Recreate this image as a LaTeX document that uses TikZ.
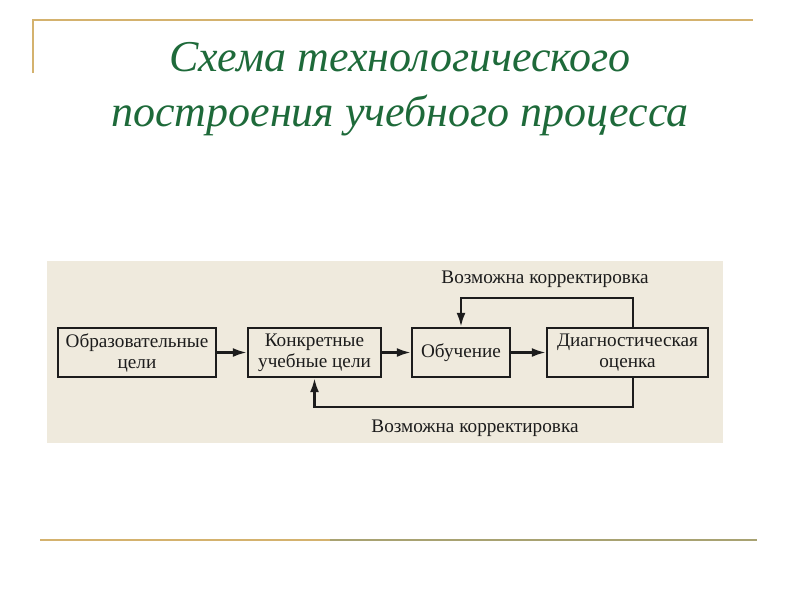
\documentclass[tikz,border=0pt]{standalone}
\usepackage{fontspec}
\setmainfont{Liberation Serif}
\usetikzlibrary{arrows.meta}
\definecolor{titlegreen}{HTML}{1E6A3A}
\definecolor{rulegold}{HTML}{D4B26E}
\definecolor{ruleolive}{HTML}{A8A272}
\definecolor{scanbg}{HTML}{EFEADD}
\definecolor{ink}{HTML}{1C1C1C}

\begin{document}
\begin{tikzpicture}[x=1pt,y=-1pt,
  stage/.style={draw=ink,line width=2.4pt,text=ink,align=center,
    minimum height=49pt,inner sep=0pt,font=\fontsize{19.2}{21}\selectfont},
  link/.style={draw=ink,line width=2.4pt,-{Latex[length=14pt,width=9pt]}},
  note/.style={text=ink,inner sep=0pt,font=\fontsize{19.2}{21}\selectfont}]
	\useasboundingbox (0,0) rectangle (800,600);
	% frame rules
	\draw [rulegold,line width=2pt] (33,73) -- (33,20) -- (753,20);
	\draw [rulegold,line width=2.5pt] (40,540) -- (330,540);
	\draw [ruleolive,line width=2.5pt] (330,540) -- (757,540);
	% title
	\node [text=titlegreen,align=center,
	  font=\fontsize{44}{55}\selectfont\itshape] (title) at (400,89)
	  {Схема технологического\\построения учебного процесса};
	% scanned scheme
	\fill [scanbg] (47,261) rectangle (723,443);
	\node [stage,minimum width=158pt] (goals) at (137,352.5) {Образовательные\\цели};
	\node [stage,minimum width=133pt] (aims) at (314.5,352.5) {Конкретные\\учебные цели};
	\node [stage,minimum width=98pt] (teach) at (461,352.5) {Обучение};
	\node [stage,minimum width=161pt] (check) at (627.5,352.5) {Диагностическая\\оценка};
	\draw [link] (goals) -- (aims);
	\draw [link] (aims) -- (teach);
	\draw [link] (teach) -- (check);
	% feedback loops
	\coordinate (up) at (633,298);
	\coordinate (down) at (633,407);
	\draw [link] (check.north -| up) -- (up) -- (up -| teach) -- (teach.north);
	\draw [link] (check.south -| down) -- (down) -- (down -| aims) -- (aims.south);
	\node [note] (upnote) at (545,279) {Возможна корректировка};
	\node [note] (downnote) at (475,428) {Возможна корректировка};
\end{tikzpicture}
\end{document}
